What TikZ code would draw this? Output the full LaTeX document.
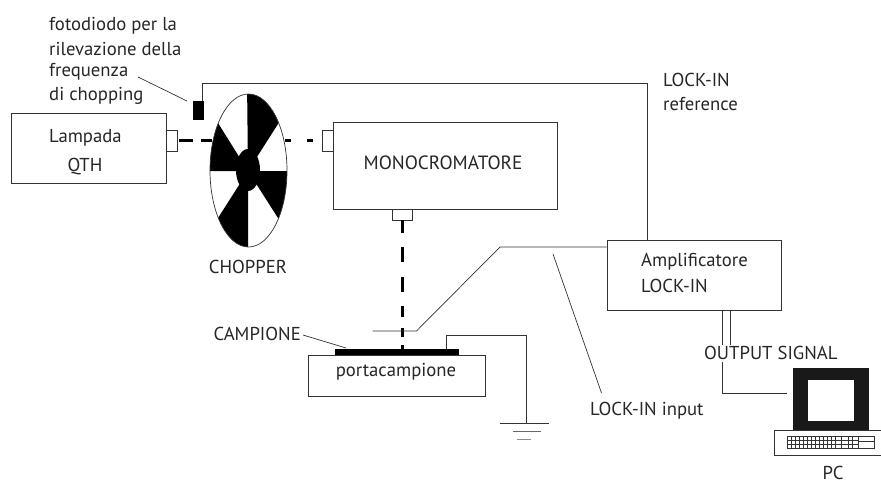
\documentclass[tikz,border=0pt]{standalone}
\usepackage{fontspec}
\setmainfont{PT Sans}
\usetikzlibrary{calc,shapes.geometric}
\tikzset{
	wire/.style={draw=black!80,line width=0.7pt},
	beam/.style={line width=3pt},
	box/.style={draw=black!80,line width=0.7pt,fill=white,inner sep=0pt},
	lab/.style={inner sep=0pt,font=\fontsize{18.7}{22}\selectfont,text=black!85},
	leftlab/.style={lab,anchor=west},
}
\begin{document}
\begin{tikzpicture}[x=1pt,y=-1pt]
	\useasboundingbox (0,0) rectangle (881,483);
	% boxes
	\node[box,minimum width=155pt,minimum height=70pt] (lampada) at (88.5,148) {};
	\node[box,minimum width=11pt,minimum height=21pt] (noz1) at (171.5,140.5) {};
	\node[box,minimum width=224pt,minimum height=87pt] (mono) at (445,165.5) {};
	\node[box,minimum width=11pt,minimum height=21pt] (noz2) at (327.5,140.5) {};
	\node[box,minimum width=20pt,minimum height=11pt] (noz3) at (402,214.5) {};
	\node[box,minimum width=174pt,minimum height=70pt] (amp) at (694,275) {};
	\node[box,minimum width=177pt,minimum height=40.5pt] (porta) at (397,375.75) {};
	\node[fill=black,inner sep=0pt,minimum width=124pt,minimum height=6pt] (camp) at (397,352) {};
	\node[fill=black,inner sep=0pt,minimum width=11pt,minimum height=19pt] (diodo) at (198.5,110.5) {};

	% chopper
	\begin{scope}
		\clip (248.5,170.5) ellipse [x radius=38.5,y radius=76.5];
		\fill[white] (205,90) rectangle (292,250);
		\fill (248,171) -- (247,80) -- (308,77) -- cycle;
		\fill (248,171) -- (188,75) -- (188,171) -- cycle;
		\fill (248,171) -- (300,171) -- (308,265) -- cycle;
		\fill (248,171) -- (248,260) -- (188,265) -- cycle;
		\fill (248,170) ellipse [x radius=12,y radius=21];
	\end{scope}
	\node[draw=black!80,line width=0.7pt,ellipse,inner sep=0pt,minimum width=77pt,minimum height=153pt] (wheel) at (248.5,170.5) {};

	% light path
	\coordinate (beam1) at ($(noz1.east)+(2,0)$);
	\coordinate (beam2) at (212,140.5);
	\coordinate (beam3) at (285,140.5);
	\coordinate (beam4) at (320,140.5);
	\draw[beam,dash pattern=on 14pt off 8pt] (beam1) -- (beam2);
	\draw[beam,dash pattern=on 6pt off 16pt] (beam3) -- (beam4);
	\draw[beam,dash pattern=on 13pt off 14pt on 15pt off 15pt on 15pt off 14pt on 11pt off 11pt on 9pt off 8pt] (noz3.south) -- (camp.north -| noz3.south);

	% wires
	\coordinate (ref1) at (202,83);
	\coordinate (ref2) at (647,83);
	\draw[wire] (diodo.north -| ref1) -- (ref1) -- (ref2) -- (ref2 |- amp.north);
	\coordinate (in1) at (372.5,331);
	\coordinate (in2) at (416.5,331);
	\coordinate (in3) at (500,247);
	\draw[wire] (in1) -- (in2) -- (in3) -- (in3 -| amp.west);
	\coordinate (gnd1) at (446,335);
	\coordinate (gnd2) at (526,335);
	\coordinate (gnd3) at (526,423.5);
	\draw[wire] (camp.north -| gnd1) -- (gnd1) -- (gnd2) -- (gnd3);
	\draw[wire] ($(gnd3)+(-26,0)$) -- ($(gnd3)+(23,0)$);
	\draw[wire,draw=black!60] ($(gnd3)+(-13,8)$) -- ($(gnd3)+(15,8)$);
	\draw[wire,draw=black!45] ($(gnd3)+(-9,15.5)$) -- ($(gnd3)+(5,15.5)$);

	% PC
	\node[fill=black!90,inner sep=0pt,minimum width=76.5pt,minimum height=63pt] (monitor) at (831,399.5) {};
	\node[fill=white,inner sep=0pt,minimum width=46.5pt,minimum height=41pt] (screen) at (831,400.5) {};
	\node[box,minimum width=107pt,minimum height=25pt] (base) at (827.5,442.5) {};
	\node[box,minimum width=87pt,minimum height=12pt] (keys) at (830.5,442) {};
	\foreach \k in {791,795,...,835,841,848,852,858} {
		\draw[wire,line width=0.4pt] (\k,436) -- (\k,448);
	}
	\foreach \r in {440,444} {
		\draw[wire,line width=0.4pt] (keys.west |- 0,\r) -- (858,\r);
	}
	\draw[wire,line width=0.4pt] (858,441) -- (keys.east |- 0,441);

	% output
	\coordinate (out1) at (722,345);
	\coordinate (out2) at (730,345);
	\coordinate (out3) at (722,362);
	\coordinate (out4) at (722,393.5);
	\coordinate (out5) at (787,393.5);
	\draw[wire] (amp.south -| out1) -- (out1);
	\draw[wire] (amp.south -| out2) -- (out2);
	\draw[wire] (out3) -- (out4) -- (out5);

	% labels
	\node[leftlab] (foto1) at (49,26) {fotodiodo per la};
	\node[leftlab] (foto2) at (49,49) {rilevazione della};
	\node[leftlab] (foto3) at (49,72) {frequenza};
	\node[leftlab] (foto4) at (49,96) {di chopping};
	\node[leftlab] (lamp1) at (49,138) {Lampada};
	\node[lab] (lamp2) at (85,167) {QTH};
	\node[lab,font=\fontsize{19.2}{22}\selectfont] (monolab) at (443,163) {MONOCROMATORE};
	\node[lab] (choplab) at (248,267) {CHOPPER};
	\node[lab,anchor=east] (camplab) at (301,334) {CAMPIONE};
	\node[lab] (portalab) at (396,371.5) {portacampione};
	\node[leftlab] (amp1) at (641,262) {Amplificatore};
	\node[leftlab] (amp2) at (641,286) {LOCK-IN};
	\node[leftlab] (ref1lab) at (663,80) {LOCK-IN};
	\node[leftlab] (ref2lab) at (663,104) {reference};
	\node[leftlab] (inlab) at (590,411) {LOCK-IN input};
	\node[leftlab] (outlab) at (704,353) {OUTPUT SIGNAL};
	\node[lab] (pclab) at (833,473) {PC};

	% leaders
	\coordinate (lead1) at (138,77);
	\coordinate (lead2) at (187,101);
	\draw[wire] (lead1) -- (lead2);
	\coordinate (lead3) at (303,335);
	\coordinate (lead4) at (346,348);
	\draw[wire] (lead3) -- (lead4);
	\coordinate (lead5) at (553,254);
	\coordinate (lead6) at (601.5,393);
	\draw[wire] (lead5) -- (lead6);
\end{tikzpicture}
\end{document}
